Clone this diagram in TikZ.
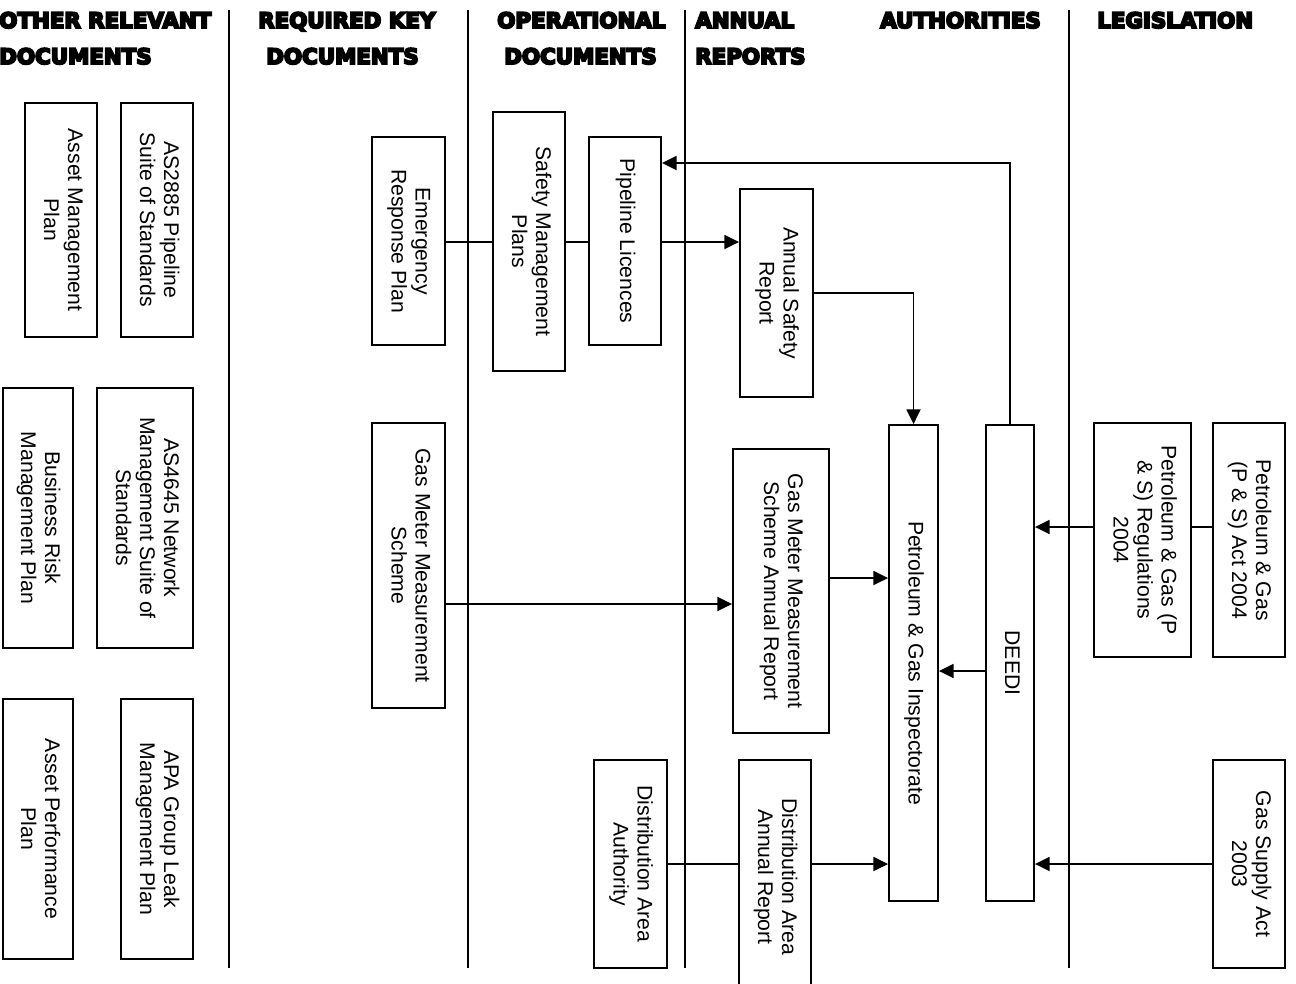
\documentclass[tikz,border=0pt]{standalone}
\usepackage{fontspec}
\usepackage{graphicx}
\setmainfont{Liberation Sans}
\newfontfamily\hdrfont{DejaVu Sans Bold}[FakeBold=9]
\usetikzlibrary{arrows.meta,fit}
\newcommand{\vtxt}[1]{\rotatebox{-90}{\begin{tabular}{@{}c@{}}#1\end{tabular}}}
\begin{document}
\begin{tikzpicture}[x=0.75pt,y=-0.75pt,
  box/.style={draw,line width=1.4pt,inner sep=0pt,font={\fontsize{15.9pt}{18pt}\selectfont}},
  hdr/.style={font={\hdrfont\fontsize{16pt}{19pt}\selectfont},inner sep=0pt,anchor=base west},
  sepline/.style={line width=1.4pt},
  conn/.style={line width=1.4pt},
  arr/.style={line width=1.4pt,-{Triangle[length=11pt,width=10.5pt]}}]
\path[use as bounding box] (0,0) rectangle (1296,983);
\clip (0,0) rectangle (1296,983);

% headers
\node[hdr] (h1a) at (-1,28) {OTHER RELEVANT};
\node[hdr] (h1b) at (-1,64) {DOCUMENTS};
\node[hdr] (h2a) at (258,28) {REQUIRED KEY};
\node[hdr] (h2b) at (266,64) {DOCUMENTS};
\node[hdr] (h3a) at (497,28) {OPERATIONAL};
\node[hdr] (h3b) at (504,64) {DOCUMENTS};
\node[hdr] (h4a) at (695,28) {ANNUAL};
\node[hdr] (h4b) at (695,64) {REPORTS};
\node[hdr] (h5a) at (880,28) {AUTHORITIES};
\node[hdr] (h6a) at (1097,28) {LEGISLATION};

% column separators
\draw[sepline] (229,10) -- (229,968);
\draw[sepline] (468,10) -- (468,968);
\draw[sepline] (685,10) -- (685,968);
\draw[sepline] (1069,10) -- (1069,968);

% boxes
\node[box,fit={(25,103) (97,337)}] (amp) {\vtxt{Asset Management\\Plan}};
\node[box,fit={(121,103) (193,337)}] (as2885) {\vtxt{AS2885 Pipeline\\Suite of Standards}};
\node[box,fit={(3,388) (73,648)}] (brmp) {\vtxt{Business Risk\\Management Plan}};
\node[box,fit={(97,388) (193,648)}] (as4645) {\vtxt{AS4645 Network\\Management Suite of\\Standards}};
\node[box,fit={(3,699) (73,959)}] (app) {\vtxt{Asset Performance\\Plan}};
\node[box,fit={(121,699) (193,959)}] (apa) {\vtxt{APA Group Leak\\Management Plan}};
\node[box,fit={(372,137) (445,345)}] (erp) {\vtxt{Emergency\\Response Plan}};
\node[box,fit={(372,423) (445,708)}] (gmms) {\vtxt{Gas Meter Measurement\\Scheme}};
\node[box,fit={(493,112) (565,371)}] (smp) {\vtxt{Safety Management\\Plans}};
\node[box,fit={(589,137) (661,345)}] (pl) {\vtxt{Pipeline Licences}};
\node[box,fit={(594,760) (667,968)}] (daa) {\vtxt{Distribution Area\\Authority}};
\node[box,fit={(740,189) (813,397)}] (asr) {\vtxt{Annual Safety\\Report}};
\node[box,fit={(733,449) (829,733)}] (gmmsar) {\vtxt{Gas Meter Measurement\\Scheme Annual Report}};
\node[box,fit={(739,760) (811,994)}] (daar) {\vtxt{Distribution Area\\Annual Report}};
\node[box,fit={(889,425) (938,901)}] (pgi) {\vtxt{Petroleum \& Gas Inspectorate}};
\node[box,fit={(986,425) (1034,901)}] (deedi) {\vtxt{DEEDI}};
\node[box,fit={(1094,423) (1191,657)}] (regs) {\vtxt{Petroleum \& Gas (P\\\& S) Regulations\\2004}};
\node[box,fit={(1213,423) (1285,657)}] (act) {\vtxt{Petroleum \& Gas\\(P \& S) Act 2004}};
\node[box,fit={(1213,760) (1285,968)}] (gsa) {\vtxt{Gas Supply Act\\2003}};

% connector coordinates
\coordinate (ymid) at (0,242);
\coordinate (ytop) at (1010,163);
\coordinate (ygm) at (0,604);
\coordinate (ygr) at (0,578);
\coordinate (yda) at (0,864);
\coordinate (yrg) at (0,527);
\coordinate (ydd) at (0,671);

% connectors
\draw[conn] (erp.east |- ymid) -- (smp.west |- ymid);
\draw[conn] (smp.east |- ymid) -- (pl.west |- ymid);
\draw[arr] (pl.east |- ymid) -- (asr.west |- ymid);
\draw[arr] (deedi.north) -- (deedi.north |- ytop) -- (ytop -| pl.east);
\draw[arr] (asr.east) -| (pgi.north);
\draw[arr] (gmms.east |- ygm) -- (gmmsar.west |- ygm);
\draw[arr] (gmmsar.east |- ygr) -- (pgi.west |- ygr);
\draw[conn] (daa.east |- yda) -- (daar.west |- yda);
\draw[arr] (daar.east |- yda) -- (pgi.west |- yda);
\draw[arr] (gsa.west |- yda) -- (deedi.east |- yda);
\draw[conn] (act.west |- yrg) -- (regs.east |- yrg);
\draw[arr] (regs.west |- yrg) -- (deedi.east |- yrg);
\draw[arr] (deedi.west |- ydd) -- (pgi.east |- ydd);
\end{tikzpicture}
\end{document}
